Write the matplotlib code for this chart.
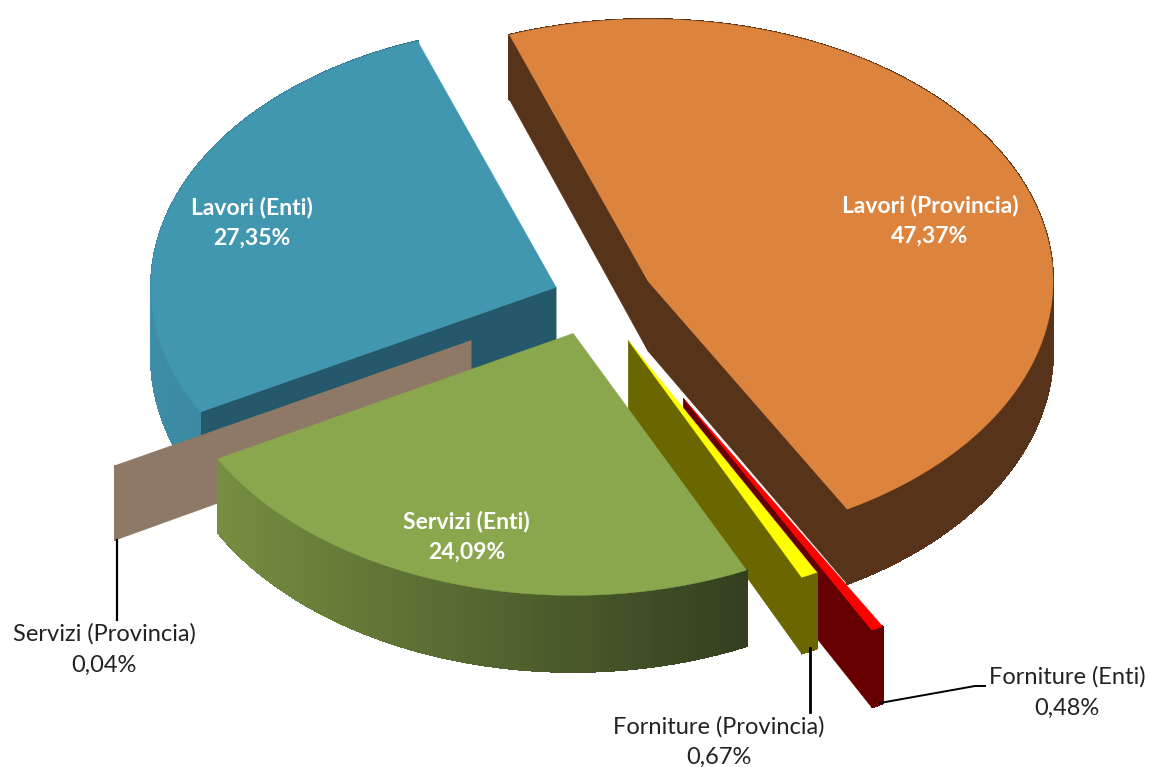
import numpy as np
import matplotlib
matplotlib.use("Agg")
import matplotlib.pyplot as plt
from matplotlib.colors import LinearSegmentedColormap

# ==========================
# Data
# ==========================
names = ["Lavori (Enti)", "Servizi (Provincia)", "Servizi (Enti)",
         "Forniture (Provincia)", "Forniture (Enti)", "Lavori (Provincia)"]
shares = [27.35, 0.04, 24.09, 0.67, 0.48, 47.37]
explode = [0.116, 0.365, 0.15, 0.19, 0.44, 0.136]

top_colors = ["#4197AF", "#8E7966", "#8AA74E", "#FFFF00", "#FF0000", "#DC843E"]
side_colors = ["#24586A", "#8E7966", "#8AA74E", "#6A6600", "#660000", "#57331A"]
arc_left = ["#3E8DA7", "#8E7966", "#758E40", "#6A6600", "#660000", "#57331A"]
arc_right = ["#32778F", "#8E7966", "#333F1F", "#6A6600", "#660000", "#57331A"]
draw_order = [5, 0, 1, 4, 3, 2]

# pie geometry in pixels
cx, cy = 600, 295
rx, ry = 405, 262
start_angle = 110
nudge_x = [0, 1, -8, -6, -2, -2]
nudge_y = [3, 0, 1, 1, 2, 1]


def depth(y):
    return 64 + 0.021 * y


def rim(ax_x, ax_y, t):
    t = np.radians(t)
    return ax_x + rx * np.cos(t), ax_y - ry * np.sin(t)


def pct(v):
    return f"{v:.2f}%".replace(".", ",")


fig = plt.figure(figsize=(11.5, 7.67), dpi=100)
ax = fig.add_axes([0, 0, 1, 1])
ax.set_xlim(0, 1150)
ax.set_ylim(767, 0)
ax.axis("off")

# ==========================
# Slices
# ==========================
spans = np.array(shares) / sum(shares) * 360
starts = start_angle + np.concatenate([[0], np.cumsum(spans)[:-1]])
tips = {}

for i in draw_order:
    a0, a1 = starts[i], starts[i] + spans[i]
    mid = np.radians((a0 + a1) / 2)
    px = cx + explode[i] * rx * np.cos(mid) + nudge_x[i]
    py = cy - explode[i] * ry * np.sin(mid) + nudge_y[i]

    ts = np.linspace(a0, a1, max(int(spans[i] * 2), 2) + 1)
    xs, ys = rim(px, py, ts)
    tips[i] = (xs, ys)

    # flat side walls, only those turned towards the viewer
    for x, y, normal in [(xs[0], ys[0], a0 - 90), (xs[-1], ys[-1], a1 + 90)]:
        if np.sin(np.radians(normal)) < 0:
            ax.fill([px, x, x, px],
                    [py, y, y + depth(y), py + depth(py)],
                    color=side_colors[i], lw=0.5)

    # curved outer wall, shaded left to right
    cmap = LinearSegmentedColormap.from_list("w", [arc_left[i], arc_right[i]])
    left, right = xs.min(), max(xs.max(), xs.min() + 1)
    for k in range(len(ts) - 1):
        shade = (xs[k] - left) / (right - left)
        ax.fill([xs[k], xs[k + 1], xs[k + 1], xs[k]],
                [ys[k], ys[k + 1], ys[k + 1] + depth(ys[k + 1]), ys[k] + depth(ys[k])],
                color=cmap(shade), lw=0.8, antialiased=False)

    ax.fill(np.r_[px, xs], np.r_[py, ys], color=top_colors[i], lw=0.3)

# ==========================
# Leader lines
# ==========================
x, y = tips[1][0][-1], tips[1][1][-1]
ax.plot([x + 1, x + 1], [y + depth(y), 620], color="black", lw=1.6)
ax.plot([810, 810], [648, 712], color="black", lw=2)
x, y = tips[4][0][0], tips[4][1][0]
ax.plot([x + 8, 975, 985], [703, 686, 686], color="black", lw=1.4)

# ==========================
# Labels
# ==========================
font = "Lato"
white = dict(color="white", fontsize=16.5, ha="center", va="center", family=font, fontweight="bold")
black = dict(color="#222222", fontsize=17, ha="center", va="center", family=font)

ax.text(252, 207, names[0], **white)
ax.text(252, 238, pct(shares[0]), **white)
ax.text(930, 205, names[5], **white)
ax.text(930, 236, pct(shares[5]), **white)
ax.text(466, 521, names[2], **white)
ax.text(467, 552, pct(shares[2]), **white)
ax.text(104, 634, names[1], **black)
ax.text(104, 665, pct(shares[1]), **black)
ax.text(719, 727, names[3], **black)
ax.text(719, 757, pct(shares[3]), **black)
ax.text(1067, 677, names[4], **black)
ax.text(1067, 708, pct(shares[4]), **black)

fig.savefig("out.png", dpi=100)
